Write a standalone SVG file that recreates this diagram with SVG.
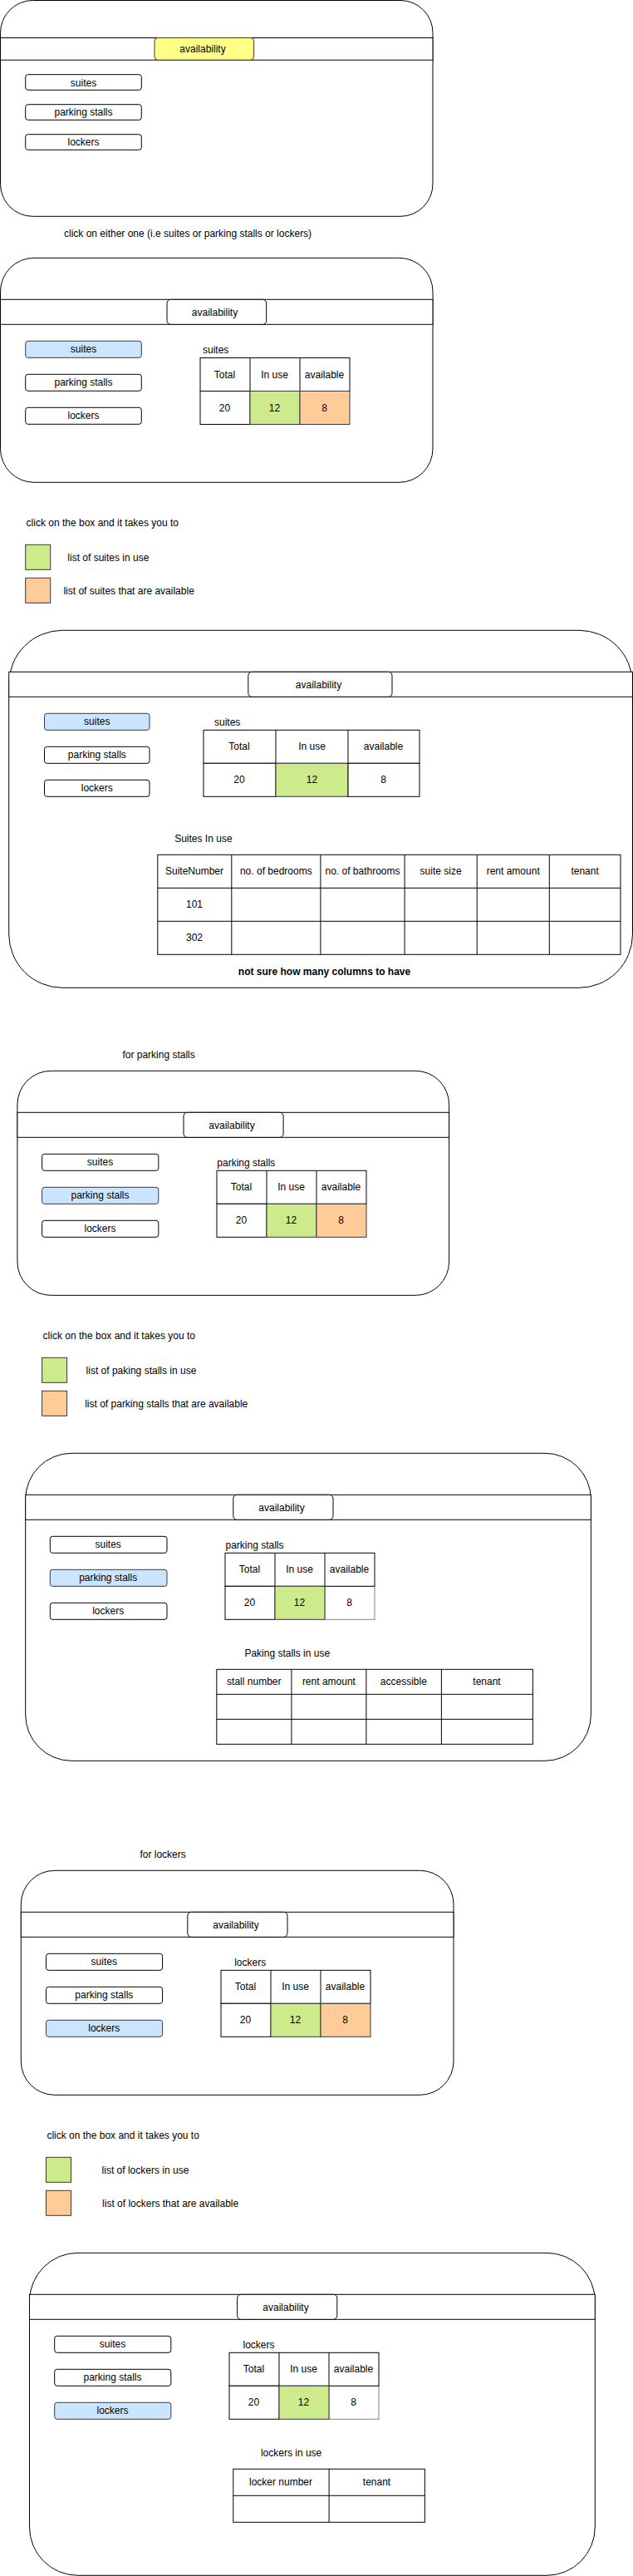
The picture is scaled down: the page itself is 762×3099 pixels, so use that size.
<svg xmlns="http://www.w3.org/2000/svg" width="762" height="3099" viewBox="0 0 762 3099">
<style>
text{font-family:"Liberation Sans",Arial,Helvetica,sans-serif;font-size:12px;fill:#000}
.m{text-anchor:middle}
.b{font-weight:bold}
.frame{fill:#fff;stroke:#000;stroke-width:1}
.hdr{fill:#fff;stroke:#000}
.tab{fill:#fff;stroke:#000}
.tabY{fill:#ffff88;stroke:#36393d}
.btn{fill:#fff;stroke:#000}
.sel{fill:#cce5ff;stroke:#36393d}
.cell{fill:#fff;stroke:#000}
.ln{fill:none;stroke:#000}
.g{fill:#cdeb8b;stroke:#36393d}
.o{fill:#ffcc99;stroke:#36393d}
.w8{fill:#fff;stroke:#808080}
</style>
<rect width="762" height="3099" fill="#fff"/>
<g id="connectors"/>

<!-- Screen 1 -->
<g id="screen1">
<rect class="frame" x="0.5" y="0.5" width="520.5" height="259.8" rx="39"/>
<rect class="hdr" x="0.5" y="45.5" width="520.5" height="26.7"/>
<rect class="tabY" x="186" y="45.5" width="119.6" height="26.7" rx="4"/>
<text class="m" x="244" y="63">availability</text>
</g>
<g id="s1-suites"><rect class="btn" x="30.7" y="89.7" width="139.6" height="18.6" rx="3"/><text class="m" x="100.5" y="103.5">suites</text></g>
<g id="s1-parking"><rect class="btn" x="30.7" y="125.7" width="139.6" height="18.6" rx="3"/><text class="m" x="100.5" y="139">parking stalls</text></g>
<g id="s1-lockers"><rect class="btn" x="30.7" y="161.7" width="139.6" height="18.6" rx="3"/><text class="m" x="100.5" y="175">lockers</text></g>
<g id="note1"><text x="77" y="285">click on either one (i.e suites or parking stalls or lockers)</text></g>

<!-- Screen 2 -->
<g id="screen2">
<rect class="frame" x="0.5" y="310.3" width="520.5" height="270" rx="40.5"/>
<rect class="hdr" x="0.5" y="360.3" width="520.5" height="30"/>
<rect class="tab" x="201" y="360.3" width="119.7" height="30" rx="4.5"/>
<text class="m" x="258.5" y="380">availability</text>
</g>
<g id="s2-suites"><rect class="sel" x="30.7" y="410.3" width="139.6" height="20" rx="3"/><text class="m" x="100.5" y="424.3">suites</text></g>
<g id="s2-parking"><rect class="btn" x="30.7" y="450.3" width="139.6" height="20" rx="3"/><text class="m" x="100.5" y="464.3">parking stalls</text></g>
<g id="s2-lockers"><rect class="btn" x="30.7" y="490.3" width="139.6" height="20" rx="3"/><text class="m" x="100.5" y="504.3">lockers</text></g>
<g id="s2-table">
<text x="244" y="425">suites</text>
<rect class="cell" x="241" y="430.5" width="180" height="40"/>
<path class="ln" d="M301 430.5v40M361 430.5v40"/>
<rect class="cell" x="241" y="470.5" width="60" height="40"/>
<rect class="g" x="301" y="470.5" width="60" height="40"/>
<rect class="o" x="361" y="470.5" width="60" height="40"/>
<text class="m" x="270.5" y="454.5">Total</text>
<text class="m" x="330.5" y="454.5">In use</text>
<text class="m" x="390.5" y="454.5">available</text>
<text class="m" x="270.5" y="494.5">20</text>
<text class="m" x="330.5" y="494.5">12</text>
<text class="m" x="390.5" y="494.5">8</text>
</g>

<!-- Legend 1 -->
<g id="legend1">
<text x="31.6" y="633">click on the box and it takes you to</text>
<rect class="g" x="30.7" y="655.3" width="30" height="30"/>
<text x="81.3" y="675">list of suites in use</text>
<rect class="o" x="30.7" y="695.3" width="30" height="30"/>
<text x="76.4" y="715">list of suites that are available</text>
</g>

<!-- Screen 3 -->
<g id="screen3">
<rect class="frame" x="10.7" y="758.3" width="750.8" height="430" rx="64.5"/>
<rect class="hdr" x="10.7" y="808.3" width="750.8" height="30"/>
<rect class="tab" x="298.8" y="808.3" width="173.2" height="30" rx="4.5"/>
<text class="m" x="383.5" y="828">availability</text>
</g>
<g id="s3-suites"><rect class="sel" x="53.5" y="858.3" width="126.5" height="20" rx="3"/><text class="m" x="116.8" y="872.3">suites</text></g>
<g id="s3-parking"><rect class="btn" x="53.5" y="898.3" width="126.5" height="20" rx="3"/><text class="m" x="116.8" y="912.3">parking stalls</text></g>
<g id="s3-lockers"><rect class="btn" x="53.5" y="938.3" width="126.5" height="20" rx="3"/><text class="m" x="116.8" y="952.3">lockers</text></g>
<g id="s3-table">
<text x="258" y="873">suites</text>
<rect class="cell" x="245" y="878.3" width="260" height="40"/>
<path class="ln" d="M332 878.3v40M419 878.3v40"/>
<rect class="cell" x="245" y="918.3" width="87" height="40"/>
<rect class="g" x="332" y="918.3" width="87" height="40"/>
<rect class="cell" x="419" y="918.3" width="86" height="40"/>
<text class="m" x="288" y="902.3">Total</text>
<text class="m" x="375.5" y="902.3">In use</text>
<text class="m" x="461.5" y="902.3">available</text>
<text class="m" x="288" y="942.3">20</text>
<text class="m" x="375.5" y="942.3">12</text>
<text class="m" x="461.5" y="942.3">8</text>
</g>
<g id="s3-list">
<text x="210.2" y="1013">Suites In use</text>
<rect class="cell" x="189.8" y="1028.3" width="557.2" height="120"/>
<path class="ln" d="M278.8 1028.3V1148.3M385.9 1028.3V1148.3M487.1 1028.3V1148.3M574.2 1028.3V1148.3M661.3 1028.3V1148.3M189.8 1068.3H747M189.8 1108.3H747"/>
<text class="m" x="234" y="1052.3">SuiteNumber</text>
<text class="m" x="332.3" y="1052.3">no. of bedrooms</text>
<text class="m" x="436.5" y="1052.3">no. of bathrooms</text>
<text class="m" x="530.6" y="1052.3">suite size</text>
<text class="m" x="617.7" y="1052.3">rent amount</text>
<text class="m" x="704.1" y="1052.3">tenant</text>
<text class="m" x="234" y="1092.3">101</text>
<text class="m" x="234" y="1132.3">302</text>
</g>
<g id="s3-note"><text class="m b" x="390.5" y="1173">not sure how many columns to have</text></g>

<!-- Screen 4 -->
<g id="title-parking"><text x="147.4" y="1273">for parking stalls</text></g>
<g id="screen4">
<rect class="frame" x="20.9" y="1288.3" width="519.7" height="270" rx="40.5"/>
<rect class="hdr" x="20.9" y="1338.3" width="519.7" height="30"/>
<rect class="tab" x="221" y="1338.3" width="120.1" height="30" rx="4.5"/>
<text class="m" x="279" y="1358">availability</text>
</g>
<g id="s4-suites"><rect class="btn" x="50.6" y="1388.3" width="140.2" height="20" rx="3"/><text class="m" x="120.5" y="1402.3">suites</text></g>
<g id="s4-parking"><rect class="sel" x="50.6" y="1428.3" width="140.2" height="20" rx="3"/><text class="m" x="120.5" y="1442.3">parking stalls</text></g>
<g id="s4-lockers"><rect class="btn" x="50.6" y="1468.3" width="140.2" height="20" rx="3"/><text class="m" x="120.5" y="1482.3">lockers</text></g>
<g id="s4-table">
<text x="261.3" y="1403">parking stalls</text>
<rect class="cell" x="261" y="1408.3" width="180" height="40"/>
<path class="ln" d="M321 1408.3v40M381 1408.3v40"/>
<rect class="cell" x="261" y="1448.3" width="60" height="40"/>
<rect class="g" x="321" y="1448.3" width="60" height="40"/>
<rect class="o" x="381" y="1448.3" width="60" height="40"/>
<text class="m" x="290.5" y="1432.3">Total</text>
<text class="m" x="350.5" y="1432.3">In use</text>
<text class="m" x="410.5" y="1432.3">available</text>
<text class="m" x="290.5" y="1472.3">20</text>
<text class="m" x="350.5" y="1472.3">12</text>
<text class="m" x="410.5" y="1472.3">8</text>
</g>

<!-- Legend 2 -->
<g id="legend2">
<text x="51.6" y="1611">click on the box and it takes you to</text>
<rect class="g" x="50.6" y="1633.3" width="30" height="30"/>
<text x="103.6" y="1653">list of paking stalls in use</text>
<rect class="o" x="50.6" y="1673.3" width="30" height="30"/>
<text x="102.2" y="1693">list of parking stalls that are available</text>
</g>

<!-- Screen 5 -->
<g id="screen5">
<rect class="frame" x="30.7" y="1748.3" width="680.7" height="370" rx="55.5"/>
<rect class="hdr" x="30.7" y="1798.3" width="680.7" height="30"/>
<rect class="tab" x="280.8" y="1798.3" width="120.2" height="30" rx="4.5"/>
<text class="m" x="339" y="1818">availability</text>
</g>
<g id="s5-suites"><rect class="btn" x="60.3" y="1848.3" width="140.7" height="20" rx="3"/><text class="m" x="130.2" y="1862.3">suites</text></g>
<g id="s5-parking"><rect class="sel" x="60.3" y="1888.3" width="140.7" height="20" rx="3"/><text class="m" x="130.2" y="1902.3">parking stalls</text></g>
<g id="s5-lockers"><rect class="btn" x="60.3" y="1928.3" width="140.7" height="20" rx="3"/><text class="m" x="130.2" y="1942.3">lockers</text></g>
<g id="s5-table">
<text x="271.5" y="1863">parking stalls</text>
<rect class="w8" x="391" y="1908.3" width="60" height="40"/>
<rect class="cell" x="271" y="1868.3" width="180" height="40"/>
<path class="ln" d="M331 1868.3v40M391 1868.3v40"/>
<rect class="cell" x="271" y="1908.3" width="60" height="40"/>
<rect class="g" x="331" y="1908.3" width="60" height="40"/>
<text class="m" x="300.5" y="1892.3">Total</text>
<text class="m" x="360.5" y="1892.3">In use</text>
<text class="m" x="420.5" y="1892.3">available</text>
<text class="m" x="300.5" y="1932.3">20</text>
<text class="m" x="360.5" y="1932.3">12</text>
<text class="m" x="420.5" y="1932.3">8</text>
</g>
<g id="s5-list">
<text x="294.4" y="1993">Paking stalls in use</text>
<rect class="cell" x="260.8" y="2008.3" width="380.6" height="90"/>
<path class="ln" d="M350.9 2008.3V2098.3M440.9 2008.3V2098.3M531.4 2008.3V2098.3M260.8 2038.3H641.4M260.8 2068.3H641.4"/>
<text class="m" x="305.8" y="2027.3">stall number</text>
<text class="m" x="395.9" y="2027.3">rent amount</text>
<text class="m" x="485.8" y="2027.3">accessible</text>
<text class="m" x="586" y="2027.3">tenant</text>
</g>

<!-- Screen 6 -->
<g id="title-lockers"><text x="168.4" y="2235">for lockers</text></g>
<g id="screen6">
<rect class="frame" x="25.3" y="2250.3" width="520.7" height="270" rx="40.5"/>
<rect class="hdr" x="25.3" y="2300.3" width="520.7" height="30"/>
<rect class="tab" x="225.8" y="2300.3" width="120.2" height="30" rx="4.5"/>
<text class="m" x="284" y="2320">availability</text>
</g>
<g id="s6-suites"><rect class="btn" x="55.5" y="2350.3" width="140.1" height="20" rx="3"/><text class="m" x="125.3" y="2364.3">suites</text></g>
<g id="s6-parking"><rect class="btn" x="55.5" y="2390.3" width="140.1" height="20" rx="3"/><text class="m" x="125.3" y="2404.3">parking stalls</text></g>
<g id="s6-lockers"><rect class="sel" x="55.5" y="2430.3" width="140.1" height="20" rx="3"/><text class="m" x="125.3" y="2444.3">lockers</text></g>
<g id="s6-table">
<text x="282.2" y="2365">lockers</text>
<rect class="cell" x="266" y="2370.3" width="180" height="40"/>
<path class="ln" d="M326 2370.3v40M386 2370.3v40"/>
<rect class="cell" x="266" y="2410.3" width="60" height="40"/>
<rect class="g" x="326" y="2410.3" width="60" height="40"/>
<rect class="o" x="386" y="2410.3" width="60" height="40"/>
<text class="m" x="295.5" y="2394.3">Total</text>
<text class="m" x="355.5" y="2394.3">In use</text>
<text class="m" x="415.5" y="2394.3">available</text>
<text class="m" x="295.5" y="2434.3">20</text>
<text class="m" x="355.5" y="2434.3">12</text>
<text class="m" x="415.5" y="2434.3">8</text>
</g>

<!-- Legend 3 -->
<g id="legend3">
<text x="56.4" y="2573">click on the box and it takes you to</text>
<rect class="g" x="55.5" y="2595.3" width="30" height="30"/>
<text x="122.6" y="2615">list of lockers in use</text>
<rect class="o" x="55.5" y="2635.3" width="30" height="30"/>
<text x="123.1" y="2655">list of lockers that are available</text>
</g>

<!-- Screen 7 -->
<g id="screen7">
<rect class="frame" x="35.5" y="2710.3" width="680.8" height="388" rx="58.2"/>
<rect class="hdr" x="35.5" y="2760.3" width="680.8" height="30"/>
<rect class="tab" x="285.6" y="2760.3" width="120.2" height="30" rx="4.5"/>
<text class="m" x="344" y="2780">availability</text>
</g>
<g id="s7-suites"><rect class="btn" x="65.7" y="2810.3" width="140.1" height="20" rx="3"/><text class="m" x="135.5" y="2824.3">suites</text></g>
<g id="s7-parking"><rect class="btn" x="65.7" y="2850.3" width="140.1" height="20" rx="3"/><text class="m" x="135.5" y="2864.3">parking stalls</text></g>
<g id="s7-lockers"><rect class="sel" x="65.7" y="2890.3" width="140.1" height="20" rx="3"/><text class="m" x="135.5" y="2904.3">lockers</text></g>
<g id="s7-table">
<text x="292.5" y="2825">lockers</text>
<rect class="w8" x="396" y="2870.3" width="60" height="40"/>
<rect class="cell" x="276" y="2830.3" width="180" height="40"/>
<path class="ln" d="M336 2830.3v40M396 2830.3v40"/>
<rect class="cell" x="276" y="2870.3" width="60" height="40"/>
<rect class="g" x="336" y="2870.3" width="60" height="40"/>
<text class="m" x="305.5" y="2854.3">Total</text>
<text class="m" x="365.5" y="2854.3">In use</text>
<text class="m" x="425.5" y="2854.3">available</text>
<text class="m" x="305.5" y="2894.3">20</text>
<text class="m" x="365.5" y="2894.3">12</text>
<text class="m" x="425.5" y="2894.3">8</text>
</g>
<g id="s7-list">
<text x="313.9" y="2955">lockers in use</text>
<rect class="cell" x="280.8" y="2970.3" width="230.6" height="64"/>
<path class="ln" d="M396.1 2970.3V3034.3M280.8 3002.3H511.4"/>
<text class="m" x="338" y="2990.3">locker number</text>
<text class="m" x="453.5" y="2990.3">tenant</text>
</g>
</svg>
